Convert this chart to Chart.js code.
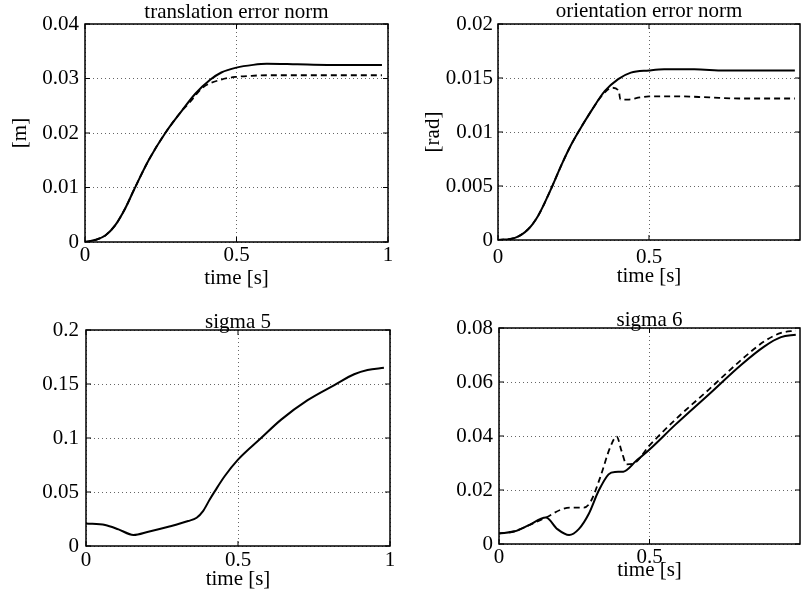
<!DOCTYPE html>
<html>
<head>
<meta charset="utf-8">
<title>error norms and sigmas</title>
<script src="https://cdn.jsdelivr.net/npm/chart.js@4.4.0/dist/chart.umd.min.js"></script>
<style>
    body { margin: 0; background: #fff; }
    #wrap { position: relative; width: 801px; height: 595px; background: #fff; }
    .panel { position: absolute; }
</style>
</head>
<body>
<div id="wrap">
    <div class="panel" style="left:0;top:0"><canvas id="c1" width="400" height="297"></canvas></div>
    <div class="panel" style="left:400px;top:0"><canvas id="c2" width="401" height="297"></canvas></div>
    <div class="panel" style="left:0;top:297px"><canvas id="c3" width="400" height="298"></canvas></div>
    <div class="panel" style="left:400px;top:297px"><canvas id="c4" width="401" height="298"></canvas></div>
</div>
<script>
// tick values
const xTicksFull = [0, 0.5, 1];
const xTicksCut = [0, 0.5];
const transTicks = [0, 0.01, 0.02, 0.03, 0.04];
const orientTicks = [0, 0.005, 0.01, 0.015, 0.02];
const sigma5Ticks = [0, 0.05, 0.1, 0.15, 0.2];
const sigma6Ticks = [0, 0.02, 0.04, 0.06, 0.08];

// translation error norm [m]
const transSolidT = [0, 0.035, 0.067, 0.1, 0.133, 0.161, 0.21, 0.265, 0.32, 0.364, 0.414, 0.45, 0.5, 0.555, 0.6, 0.7, 0.8, 0.9, 0.98];
const transSolid = [0, 0.0004, 0.0012, 0.0031, 0.0062, 0.0095, 0.0150, 0.0200, 0.0241, 0.0272, 0.0298, 0.0311, 0.0320, 0.0325, 0.0327, 0.0326, 0.0325, 0.0325, 0.0325];
const transDashT = [0, 0.035, 0.067, 0.1, 0.133, 0.161, 0.21, 0.265, 0.32, 0.345, 0.39, 0.45, 0.5, 0.55, 0.6, 0.7, 0.8, 0.9, 0.98];
const transDash = [0, 0.0004, 0.0012, 0.0031, 0.0062, 0.0095, 0.0150, 0.0200, 0.0241, 0.0256, 0.0284, 0.0298, 0.0303, 0.0305, 0.0306, 0.0306, 0.0306, 0.0306, 0.0306];

// orientation error norm [rad]
const orientSolidT = [0, 0.056, 0.1, 0.134, 0.172, 0.211, 0.24, 0.266, 0.31, 0.354, 0.398, 0.44, 0.5, 0.55, 0.65, 0.75, 0.85, 0.983];
const orientSolid = [0, 0.0002, 0.0010, 0.0023, 0.0045, 0.0070, 0.0087, 0.0100, 0.0120, 0.0138, 0.0149, 0.0155, 0.0157, 0.0158, 0.0158, 0.0157, 0.0157, 0.0157];
const orientDashT = [0, 0.056, 0.1, 0.134, 0.172, 0.211, 0.24, 0.266, 0.31, 0.345, 0.377, 0.4, 0.405, 0.43, 0.47, 0.5, 0.6, 0.7, 0.8, 0.9, 0.983];
const orientDash = [0, 0.0002, 0.0010, 0.0023, 0.0045, 0.0070, 0.0087, 0.0100, 0.0120, 0.0134, 0.0141, 0.0138, 0.0130, 0.0130, 0.0132, 0.0133, 0.0133, 0.0132, 0.0131, 0.0131, 0.0131];

// sigma 5
const sigma5T = [0, 0.063, 0.107, 0.156, 0.205, 0.271, 0.336, 0.364, 0.385, 0.407, 0.424, 0.456, 0.5, 0.576, 0.642, 0.729, 0.817, 0.882, 0.926, 0.98];
const sigma5 = [0.0209, 0.0194, 0.0154, 0.0102, 0.0132, 0.0178, 0.0231, 0.0262, 0.0323, 0.0431, 0.0508, 0.0646, 0.0800, 0.1000, 0.1170, 0.1350, 0.1490, 0.1590, 0.1630, 0.1650];

// sigma 6
const sigma6SolidT = [0, 0.052, 0.096, 0.156, 0.194, 0.233, 0.265, 0.298, 0.331, 0.364, 0.385, 0.413, 0.456, 0.5, 0.587, 0.697, 0.806, 0.882, 0.937, 0.986];
const sigma6Solid = [0.0039, 0.0047, 0.0068, 0.0098, 0.0055, 0.0033, 0.0055, 0.0111, 0.0197, 0.0258, 0.0267, 0.0268, 0.0308, 0.0350, 0.0443, 0.0554, 0.0665, 0.0732, 0.0766, 0.0775];
const sigma6DashT = [0, 0.052, 0.096, 0.156, 0.205, 0.238, 0.282, 0.303, 0.336, 0.369, 0.391, 0.407, 0.424, 0.445, 0.5, 0.587, 0.697, 0.806, 0.882, 0.937, 0.986];
const sigma6Dash = [0.0039, 0.0047, 0.0068, 0.0098, 0.0127, 0.0135, 0.0135, 0.0154, 0.0246, 0.0357, 0.0398, 0.0345, 0.0295, 0.0297, 0.0365, 0.0462, 0.0572, 0.0683, 0.0751, 0.0782, 0.0790];

const FONT = "'Liberation Serif', 'Times New Roman', serif";

const zip = (ts, vs) => ts.map((t, i) => ({ x: t, y: vs[i] }));

// box around the plot area with small inward ticks
const framePlugin = {
    id: 'frame',
    afterDatasetsDraw(chart) {
        const { ctx, chartArea: a, scales: { x, y } } = chart;
        ctx.save();
        ctx.strokeStyle = '#000';
        ctx.lineWidth = 1.5;
        ctx.strokeRect(a.left, a.top, a.right - a.left, a.bottom - a.top);
        ctx.lineWidth = 1;
        ctx.beginPath();
        x.ticks.forEach(t => {
            const px = x.getPixelForValue(t.value);
            ctx.moveTo(px, a.bottom); ctx.lineTo(px, a.bottom - 5);
            ctx.moveTo(px, a.top); ctx.lineTo(px, a.top + 5);
        });
        y.ticks.forEach(t => {
            const py = y.getPixelForValue(t.value);
            ctx.moveTo(a.left, py); ctx.lineTo(a.left + 5, py);
            ctx.moveTo(a.right, py); ctx.lineTo(a.right - 5, py);
        });
        ctx.stroke();
        ctx.restore();
    }
};

function solidSet(data) {
    return { data, borderColor: '#000', borderWidth: 2, pointRadius: 0, cubicInterpolationMode: 'monotone', fill: false };
}

function dashedSet(data) {
    return { data, borderColor: '#000', borderWidth: 1.8, borderDash: [6, 4], pointRadius: 0, cubicInterpolationMode: 'monotone', fill: false };
}

function makePanel(id, p) {
    const font = { family: FONT, size: 21, lineHeight: 1, weight: 'normal' };
    return new Chart(document.getElementById(id), {
        type: 'line',
        data: { datasets: p.datasets },
        plugins: [framePlugin],
        options: {
            responsive: false,
            animation: false,
            layout: { padding: { left: 0, right: p.padRight, top: p.padTop, bottom: 0 } },
            plugins: {
                legend: { display: false },
                tooltip: { enabled: false },
                title: {
                    display: true,
                    text: p.title,
                    fullSize: false,
                    color: '#000',
                    font: font,
                    padding: { top: 0, bottom: p.titlePad }
                }
            },
            scales: {
                x: {
                    type: 'linear',
                    min: 0,
                    max: 1,
                    afterBuildTicks: s => { s.ticks = p.xTicks.map(v => ({ value: v })); },
                    afterFit: s => { s.height = p.xHeight; s.paddingLeft = 0; s.paddingRight = 0; },
                    grid: { color: '#666', lineWidth: 1, drawTicks: false },
                    border: { display: false, dash: [1, 3] },
                    ticks: { color: '#000', font: font, padding: p.xTickPad, maxRotation: 0, autoSkip: false, callback: v => String(v) },
                    title: { display: true, text: 'time [s]', color: '#000', font: font, padding: { top: 0, bottom: p.xTitlePad } }
                },
                y: {
                    type: 'linear',
                    min: p.yTicks[0],
                    max: p.yTicks[p.yTicks.length - 1],
                    afterBuildTicks: s => { s.ticks = p.yTicks.map(v => ({ value: v })); },
                    afterFit: s => { s.width = p.yWidth; s.paddingTop = 0; s.paddingBottom = 0; },
                    grid: { color: '#666', lineWidth: 1, drawTicks: false },
                    border: { display: false, dash: [1, 3] },
                    ticks: { color: '#000', font: font, padding: p.yTickPad, autoSkip: false, callback: v => String(v) },
                    title: { display: !!p.yTitle, text: p.yTitle || '', color: '#000', font: font, padding: { top: p.yTitlePad || 0, bottom: 0 } }
                }
            }
        }
    });
}

makePanel('c1', {
    title: 'translation error norm',
    datasets: [solidSet(zip(transSolidT, transSolid)), dashedSet(zip(transDashT, transDash))],
    xTicks: xTicksFull, yTicks: transTicks,
    padTop: 2, padRight: 12, titlePad: 1,
    yWidth: 85, xHeight: 55, xTickPad: 3, yTickPad: 6, xTitlePad: 8,
    yTitle: '[m]', yTitlePad: 10
});

makePanel('c2', {
    title: 'orientation error norm',
    datasets: [solidSet(zip(orientSolidT, orientSolid)), dashedSet(zip(orientDashT, orientDash))],
    xTicks: xTicksCut, yTicks: orientTicks,
    padTop: 1, padRight: 1, titlePad: 2,
    yWidth: 98, xHeight: 57, xTickPad: 7, yTickPad: 5, xTitlePad: 10,
    yTitle: '[rad]', yTitlePad: 23
});

makePanel('c3', {
    title: 'sigma 5',
    datasets: [solidSet(zip(sigma5T, sigma5))],
    xTicks: xTicksFull, yTicks: sigma5Ticks,
    padTop: 15, padRight: 10, titlePad: -3,
    yWidth: 86, xHeight: 49, xTickPad: 4, yTickPad: 7, xTitlePad: 5
});

makePanel('c4', {
    title: 'sigma 6',
    datasets: [solidSet(zip(sigma6SolidT, sigma6Solid)), dashedSet(zip(sigma6DashT, sigma6Dash))],
    xTicks: xTicksCut, yTicks: sigma6Ticks,
    padTop: 13, padRight: 1, titlePad: -3,
    yWidth: 99, xHeight: 51, xTickPad: 3, yTickPad: 6, xTitlePad: 14
});
</script>
</body>
</html>
